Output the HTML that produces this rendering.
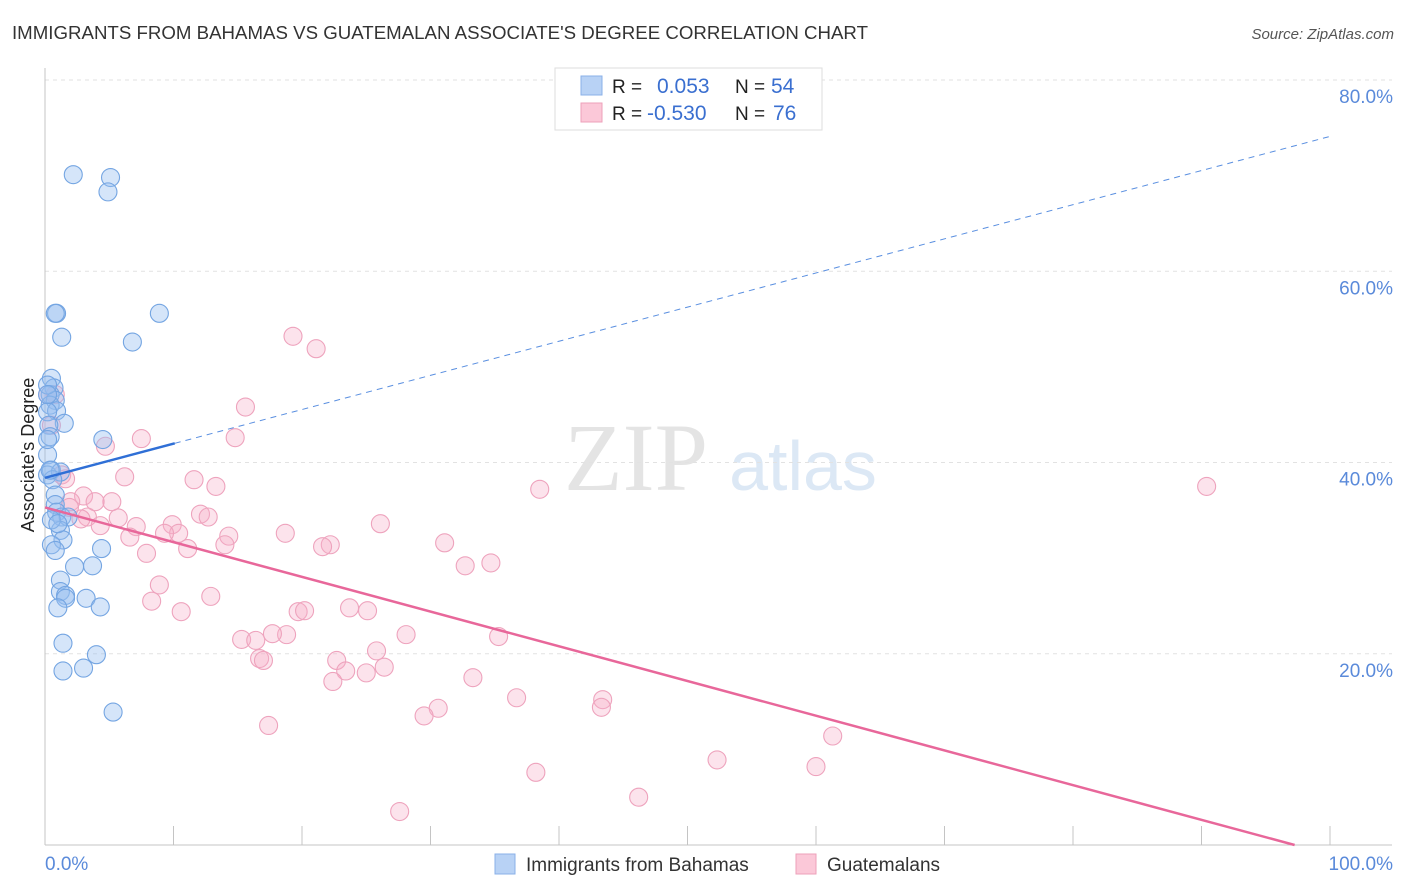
<!DOCTYPE html>
<html><head><meta charset="utf-8"><style>
body{margin:0;background:#fff;font-family:"Liberation Sans",sans-serif;}
svg{display:block}
</style></head><body>
<svg id="c" width="1406" height="892" xmlns="http://www.w3.org/2000/svg">
<text x="12" y="39" font-size="18" fill="#333" textLength="856" lengthAdjust="spacingAndGlyphs">IMMIGRANTS FROM BAHAMAS VS GUATEMALAN ASSOCIATE'S DEGREE CORRELATION CHART</text>
<text x="1394" y="39" font-size="15" fill="#555" font-style="italic" text-anchor="end">Source: ZipAtlas.com</text>
<text x="34" y="455" font-size="18" fill="#222" text-anchor="middle" transform="rotate(-90 34 455)">Associate's Degree</text>
<g><text x="636" y="490" font-size="96" fill="#e4e4e4" text-anchor="middle" font-family="Liberation Serif,serif">ZIP</text><text x="803" y="490" font-size="70" fill="#dce8f5" text-anchor="middle">atlas</text></g>
<g id="grid"></g><g id="axes"></g><g id="pts"></g><g id="trend"></g>
<g>
<rect x="555" y="68" width="267" height="62" fill="#fff" stroke="#ddd"/>
<rect x="581" y="76" width="21" height="19" fill="#b8d2f5" stroke="#8ab0e8"/>
<rect x="581" y="103" width="21" height="19" fill="#fbc8d8" stroke="#eea0ba"/>
<text x="612" y="93" font-size="19" fill="#222">R = </text><text x="657" y="93" font-size="21" fill="#3a6fd0">0.053</text>
<text x="735" y="93" font-size="19" fill="#222">N = </text><text x="771" y="93" font-size="21" fill="#3a6fd0">54</text>
<text x="612" y="120" font-size="19" fill="#222">R = </text><text x="647" y="120" font-size="21" fill="#3a6fd0">-0.530</text>
<text x="735" y="120" font-size="19" fill="#222">N = </text><text x="773" y="120" font-size="21" fill="#3a6fd0">76</text>
</g>
<g>
<rect x="495" y="854" width="20" height="20" fill="#b8d2f5" stroke="#8ab0e8"/>
<text x="526" y="871" font-size="19" fill="#333">Immigrants from Bahamas</text>
<rect x="796" y="854" width="20" height="20" fill="#fbc8d8" stroke="#eea0ba"/>
<text x="827" y="871" font-size="19" fill="#333">Guatemalans</text>
</g>
</svg>
<script>
const yTicks=[20,40,60,80];
const yTickLabels=["20.0%","40.0%","60.0%","80.0%"];
const xTicks=[0,10,20,30,40,50,60,70,80,90,100];
const blueX=[2.2,5.1,4.9,0.9,8.9,0.8,1.3,6.8,0.5,0.7,0.4,0.8,0.4,0.9,0.2,1.5,0.3,0.4,4.5,0.2,0.5,0.2,1.2,0.6,0.8,0.8,0.9,1.3,1.8,1.2,1.4,0.5,0.8,4.4,3.7,2.3,1.2,1.2,1.6,1.6,3.2,4.3,1.0,1.4,4.0,1.4,3.0,5.3,0.2,0.2,0.4,0.5,1.0,0.2];
const blueY=[70.1,69.8,68.3,55.6,55.6,55.6,53.1,52.6,48.8,47.8,47.1,46.5,46.0,45.4,45.3,44.1,43.9,42.7,42.4,40.8,39.2,38.7,39.0,38.2,36.6,35.6,34.8,34.3,34.3,32.9,31.9,31.4,30.8,31.0,29.2,29.1,27.7,26.5,26.1,25.8,25.8,24.9,24.8,21.1,19.9,18.2,18.5,13.9,48.1,47.1,39.2,34.0,33.6,42.4];
const pinkX=[19.3,21.1,15.6,14.8,7.5,4.7,0.2,0.8,0.5,1.3,1.6,6.2,11.6,13.3,38.5,90.4,3.0,2.0,5.2,3.9,3.3,5.7,2.8,4.3,7.1,9.9,10.4,12.1,12.7,14.3,18.7,26.1,6.6,9.3,14.0,11.1,7.9,22.2,21.6,31.1,34.7,32.7,8.9,8.3,12.9,10.6,19.7,20.2,23.7,25.1,28.1,18.8,17.7,15.3,16.4,35.3,25.8,22.7,16.7,17.0,23.4,26.4,25.0,22.4,33.3,36.7,43.4,43.3,30.6,29.5,17.4,61.3,52.3,38.2,60.0,46.2,27.6,1.9];
const pinkY=[53.2,51.9,45.8,42.6,42.5,41.7,47.1,47.1,43.9,38.7,38.3,38.5,38.2,37.5,37.2,37.5,36.5,35.9,35.9,35.9,34.3,34.2,34.1,33.4,33.3,33.5,32.6,34.6,34.3,32.3,32.6,33.6,32.2,32.6,31.4,31.0,30.5,31.4,31.2,31.6,29.5,29.2,27.2,25.5,26.0,24.4,24.4,24.5,24.8,24.5,22.0,22.0,22.1,21.5,21.4,21.8,20.3,19.3,19.5,19.3,18.2,18.6,18.0,17.1,17.5,15.4,15.2,14.4,14.3,13.5,12.5,11.4,8.9,7.6,8.2,5.0,3.5,35.3];
const blueTrend=[38.4,74.1]; // y at x=0, x=100
const blueSolidEnd=10.1;
const pinkTrend=[35.3,-1.0];
const X=v=>45+v*12.85, Y=v=>845-v*9.5625;
const NS="http://www.w3.org/2000/svg";
function mk(p,t,a){const e=document.createElementNS(NS,t);for(const k in a)e.setAttribute(k,a[k]);p.appendChild(e);return e;}
const grid=document.getElementById('grid'),axes=document.getElementById('axes'),pts=document.getElementById('pts'),tr=document.getElementById('trend');
yTicks.forEach((t,i)=>{
 const l=mk(grid,'line',{x1:45,x2:1392,y1:Y(t),y2:Y(t),stroke:'#e2e2e2','stroke-dasharray':'4,4'});
 
 
 const tx=mk(axes,'text',{x:1393,y:Y(t)+23,'font-size':19,fill:'#5a8ada','text-anchor':'end'});
 tx.textContent=yTickLabels[i];
 
 
});
const ax=mk(axes,'line',{x1:45,x2:1392,y1:845,y2:845,stroke:'#c4c4c4'});


const ay=mk(axes,'line',{x1:45,x2:45,y1:68,y2:845,stroke:'#c4c4c4'});


xTicks.forEach(t=>{const l=mk(axes,'line',{x1:X(t),x2:X(t),y1:826,y2:845,stroke:'#c4c4c4'});
 
 });
const t0=mk(axes,'text',{x:45,y:870,'font-size':19,fill:'#5a8ada'});t0.textContent='0.0%';


const t1=mk(axes,'text',{x:1393,y:870,'font-size':19,fill:'#5a8ada','text-anchor':'end'});t1.textContent='100.0%';


pinkX.forEach((v,i)=>{const c=mk(pts,'circle',{cx:X(v),cy:Y(pinkY[i]),r:9,fill:'rgba(246,175,200,0.35)',stroke:'#eea3bd','stroke-width':1.1});
 
 });
blueX.forEach((v,i)=>{const c=mk(pts,'circle',{cx:X(v),cy:Y(blueY[i]),r:9,fill:'rgba(150,190,240,0.4)',stroke:'#74a5e2','stroke-width':1.1});
 
 });
const by=x=>blueTrend[0]+(blueTrend[1]-blueTrend[0])*x/100;
const b1=mk(tr,'line',{x1:X(0),y1:Y(by(0)),x2:X(blueSolidEnd),y2:Y(by(blueSolidEnd)),stroke:'#2f6fd6','stroke-width':2.5});


const b2=mk(tr,'line',{x1:X(blueSolidEnd),y1:Y(by(blueSolidEnd)),x2:X(100),y2:Y(by(100)),stroke:'#5a8fe0','stroke-width':1,'stroke-dasharray':'6,5'});


const xz=pinkTrend[0]/(pinkTrend[0]-pinkTrend[1])*100;
const p1=mk(tr,'line',{x1:X(0),y1:Y(pinkTrend[0]),x2:X(xz),y2:Y(0),stroke:'#e8679a','stroke-width':2.5});


</script>
</body></html>
